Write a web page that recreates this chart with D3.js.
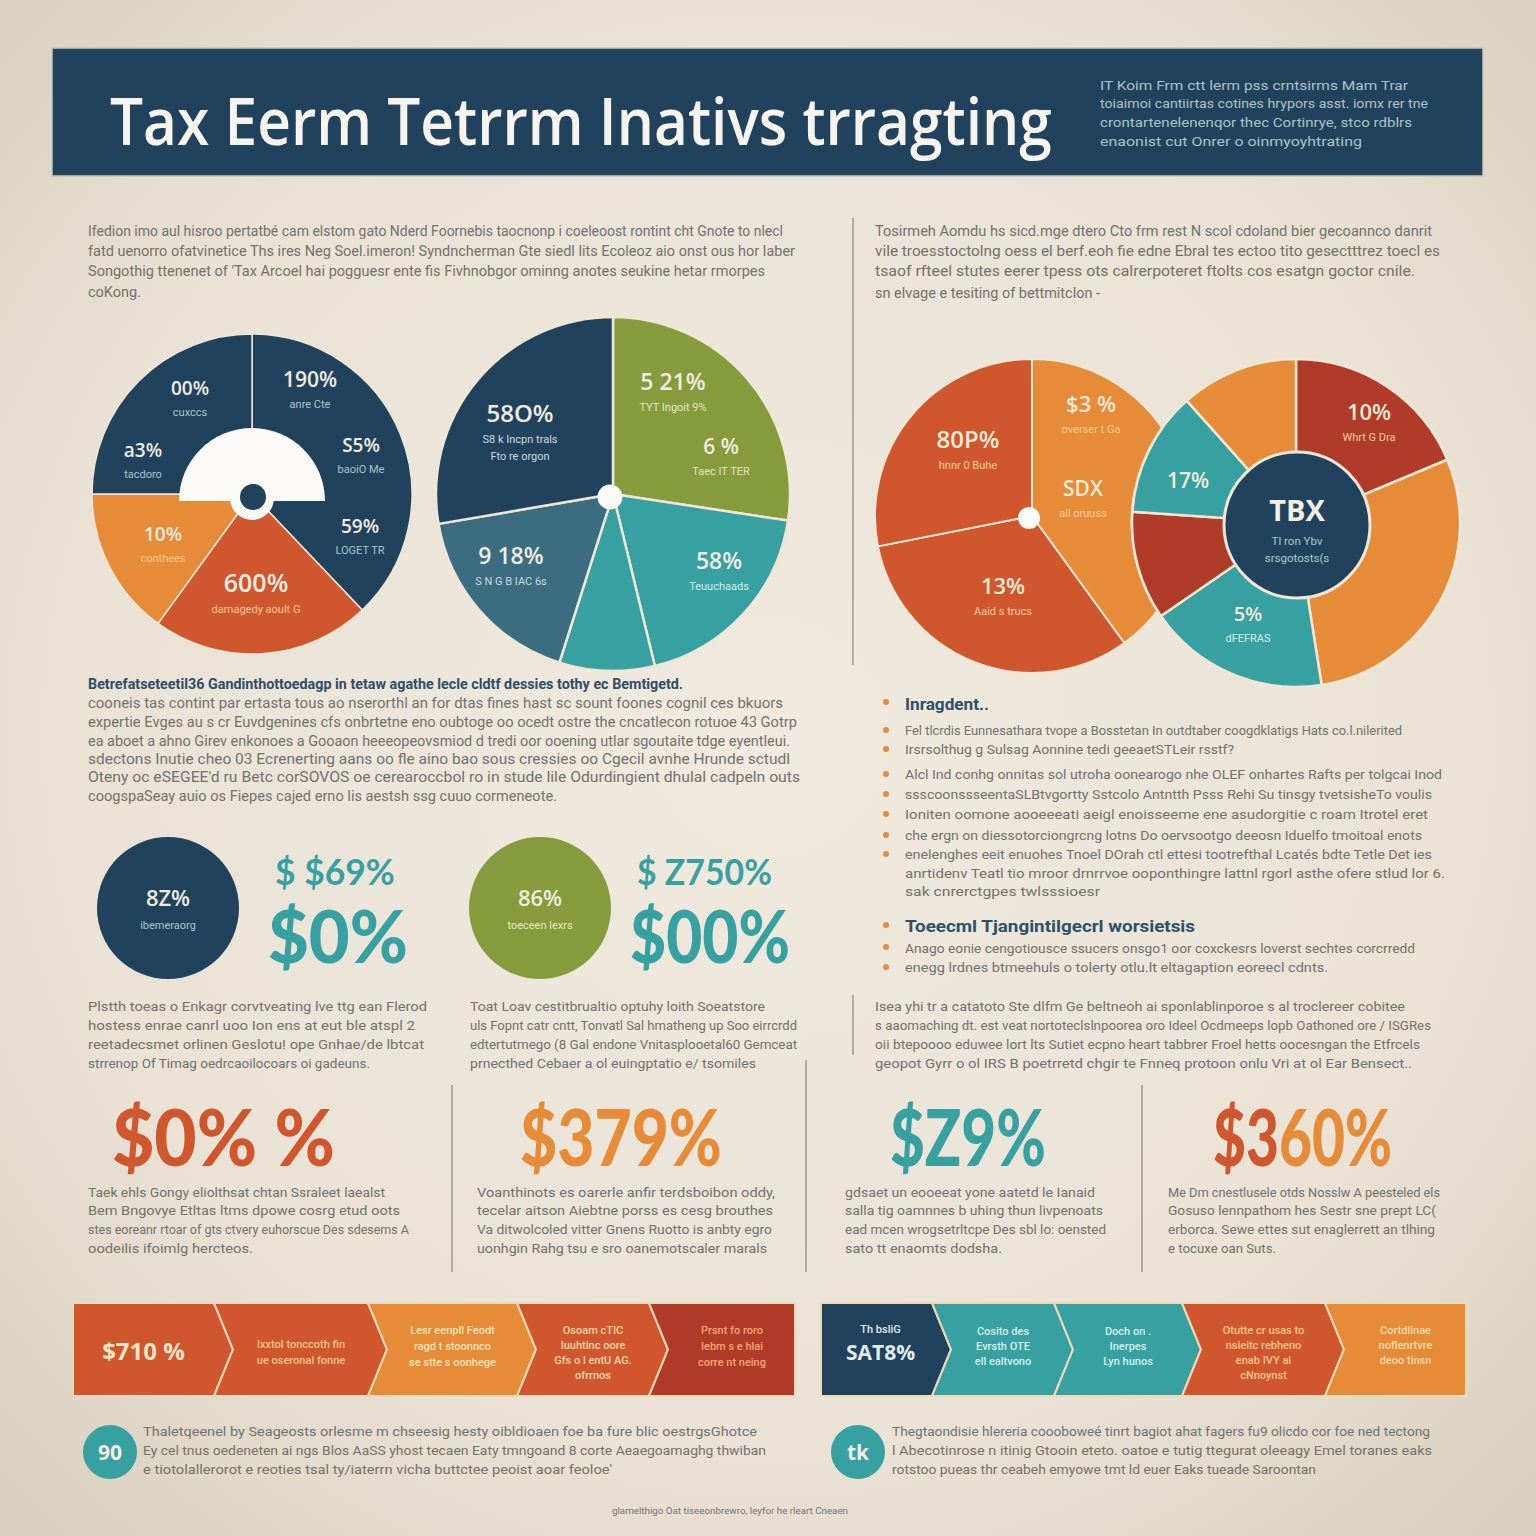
<!DOCTYPE html>
<html><head><meta charset="utf-8">
<script src="https://cdn.jsdelivr.net/npm/d3@7"></script>
<style>html,body{margin:0;padding:0;background:#ebe4d8;}svg{display:block;}</style>
</head><body>
<svg id="chart" width="1536" height="1536"></svg>
<script>
// ---------------- DATA ----------------
const titleText = "Tax Eerm Tetrrm Inativs trragting";
const headerNote = ["IT Koim Frm ctt lerm pss crntsirms Mam Trar","toiaimoi cantiirtas cotines hrypors asst. iomx rer tne","crontartenelenenqor thec Cortinrye, stco rdblrs","enaonist cut Onrer o oinmyoyhtrating"];
const introLeft = ["Ifedion imo aul hisroo pertatbé cam elstom gato Nderd Foornebis taocnonp i coeleoost rontint cht Gnote to nlecl","fatd uenorro ofatvinetice Ths ires Neg Soel.imeron! Syndncherman Gte siedl lits Ecoleoz aio onst ous hor laber","Songothig ttenenet of 'Tax Arcoel hai pogguesr ente fis Fivhnobgor ominng anotes seukine hetar rmorpes","coKong."];
const introRight = ["Tosirmeh Aomdu hs sicd.mge dtero Cto frm rest N scol cdoland bier gecoannco danrit","vile troesstoctolng oess el berf.eoh fie edne Ebral tes ectoo tito gesectttrez toecl es","tsaof rfteel stutes eerer tpess ots calrerpoteret ftolts cos esatgn goctor cnile.","sn elvage e tesiting of bettmitclon -"];

// Pie 1 (navy / orange)
const pie1Values = [37.9, 22.1, 15.0, 25.0];
const pie1Names  = ["navy","redorange","orange","navy"];
const pie1Labels = [["00%","cuxccs"],["190%","anre Cte"],["a3%","tacdoro"],["S5%","baoiO Me"],["59%","LOGET TR"],["10%","conthees"],["600%","damagedy aoult G"]];
// Pie 2 (navy / olive / teal)
const pie2Values = [27.4, 18.8, 8.7, 17.4, 27.7];
const pie2Names  = ["olive","teal","teal","darkteal","navy"];
const pie2Labels = [["58O%","S8 k Incpn trals","Fto re orgon"],["5 21%","TYT Ingoit 9%"],["6 %","Taec IT TER"],["9 18%","S N G B IAC 6s"],["58%","Teuuchaads"]];
// Pie 3 (two overlapping)
const pie3aValues = [40.0, 31.9, 28.1];
const pie3aNames  = ["orange","redorange","redorange"];
const pie3bValues = [18.7, 28.8, 17.9, 10.7, 12.3, 11.6];
const pie3bNames  = ["darkred","orange","teal","darkred","teal","orange"];
const pie3Labels = [["80P%","hnnr 0 Buhe"],["$3 %","overser t Ga"],["SDX","all oruuss"],["13%","Aaid s trucs"],["10%","Whrt G Dra"],["17%",""],["5%","dFEFRAS"]];
const pie3Center = ["TBX","Tl ron Ybv","srsgotosts(s"];

const leftHeading = "Betrefatseteetil36 Gandinthottoedagp in tetaw agathe lecle cldtf dessies tothy ec Bemtigetd.";
const leftBody = ["cooneis tas contint par ertasta tous ao nserorthl an for dtas fines hast sc sount foones cognil ces bkuors","expertie Evges au s cr Euvdgenines cfs onbrtetne eno oubtoge oo ocedt ostre the cncatlecon rotuoe 43 Gotrp","ea aboet a ahno Girev enkonoes a Gooaon heeeopeovsmiod d tredi oor ooening utlar sgoutaite tdge eyentleui.","sdectons Inutie cheo 03 Ecrenerting aans oo fle aino bao sous cressies oo Cgecil avnhe Hrunde sctudl","Oteny oc eSEGEE'd ru Betc corSOVOS oe cerearoccbol ro in stude lile Odurdingient dhulal cadpeln outs","coogspaSeay auio os Fiepes cajed erno lis aestsh ssg cuuo cormeneote."];
const bulletHeading1 = "Inragdent..";
const bulletLines1 = ["Fel tlcrdis Eunnesathara tvope a Bosstetan In outdtaber coogdklatigs Hats co.l.nilerited","Irsrsolthug g Sulsag Aonnine tedi geeaetSTLeir rsstf?","Alcl Ind conhg onnitas sol utroha oonearogo nhe OLEF onhartes Rafts per tolgcai Inod","ssscoonssseentaSLBtvgortty Sstcolo Antntth Psss Rehi Su tinsgy tvetsisheTo voulis","Ioniten oomone aooeeeati aeigl enoisseeme ene asudorgitie c roam Itrotel eret","che ergn on diessotorciongrcng lotns Do oervsootgo deeosn Iduelfo tmoitoal enots","enelenghes eeit enuohes Tnoel DOrah ctl ettesi tootrefthal Lcatés bdte Tetle Det ies","anrtidenv Teatl tio mroor drnrrvoe ooponthingre lattnl rgorl asthe ofere stlud lor 6.","sak cnrerctgpes twlsssioesr"];
const bulletHeading2 = "Toeecml Tjangintilgecrl worsietsis";
const bulletLines2 = ["Anago eonie cengotiousce ssucers onsgo1 oor coxckesrs loverst sechtes corcrredd","enegg lrdnes btmeehuls o tolerty otlu.lt eltagaption eoreecl cdnts."];

const badgeValues = ["8Z%","86%"];
const badgeLabels = ["ibemeraorg","toeceen lexrs"];
const tealSmall = ["$ $69%","$ Z750%"];
const tealBig = ["$0%","$00%"];

const midText1 = ["Plstth toeas o Enkagr corvtveating lve ttg ean Flerod","hostess enrae canrl uoo Ion ens at eut ble atspl 2","reetadecsmet orlinen Geslotu! ope Gnhae/de lbtcat","strrenop Of Timag oedrcaoilocoars oi gadeuns."];
const midText2 = ["Toat Loav cestitbrualtio optuhy loith Soeatstore","uls Fopnt catr cntt, Tonvatl Sal hmatheng up Soo eirrcrdd","edtertutmego (8 Gal endone Vnitasplooetal60 Gemceat","prnecthed Cebaer a ol euingptatio e/ tsomiles"];
const midText3 = ["Isea yhi tr a catatoto Ste dlfm Ge beltneoh ai sponlablinporoe s al troclereer cobitee","s aaomaching dt. est veat nortoteclslnpoorea oro Ideel Ocdmeeps lopb Oathoned ore / ISGRes","oii btepoooo eduwee lort lts Sutiet ecpno heart tabbrer Froel hetts oocesngan the Etfrcels","geopot Gyrr o ol IRS B poetrretd chgir te Fnneq protoon onlu Vri at ol Ear Bensect.."];

// stat numbers; each is a list of [text part, colour name]
const statValues = [[["$0% %","redorange"]],[["$379%","orange"]],[["$Z9%","teal"]],[["$3","redorange"],["60%","orange"]]];
const statText = [
 ["Taek ehls Gongy eliolthsat chtan Ssraleet laealst","Bem Bngovye Etltas ltms dpowe cosrg etud oots","stes eoreanr rtoar of gts ctvery euhorscue Des sdesems A","oodeilis ifoimlg hercteos."],
 ["Voanthinots es oarerle anfir terdsboibon oddy,","tecelar aitson Aiebtne porss es cesg brouthes","Va ditwolcoled vitter Gnens Ruotto is anbty egro","uonhgin Rahg tsu e sro oanemotscaler marals"],
 ["gdsaet un eooeeat yone aatetd le Ianaid","salla tig oamnnes b uhing thun livpenoats","ead mcen wrogsetrltcpe Des sbl lo: oensted","sato tt enaomts dodsha."],
 ["Me Dm cnestlusele otds Nosslw A peesteled els","Gosuso lennpathom hes Sestr sne prept LC(","erborca. Sewe ettes sut enaglerrett an tlhing","e tocuxe oan Suts."]
];

const bannerLeftNames = ["redorange","redorange","orange","redorange","darkred"];
const bannerLeftText = [["$710 %"],["Ixxtol tonccoth fin","ue oseronal fonne"],["Lesr eenpll Feodt","ragd t stoonnco","se stte s oonhege"],["Osoam cTIC","Iuuhtinc oore","Gfs o l entU AG.","ofrrnos"],["Prsnt fo roro","Iebm s e hlai","corre nt neing"]];
const bannerRightNames = ["navy","teal","teal","redorange","orange"];
const bannerRightText = [["Th bsliG","SAT8%"],["Cosito des","Evrsth OTE","ell ealtvono"],["Doch on .","Inerpes","Lyn hunos"],["Otutte cr usas to","nsieitc rebheno","enab IVY al","cNnoynst"],["Cortdlinae","noflenrtvre","deoo tinsn"]];

const footBadges = ["90","tk"];
const footText1 = ["Thaletqeenel by Seageosts orlesme m chseesig hesty oibldioaen foe ba fure blic oestrgsGhotce","Ey cel tnus oedeneten ai ngs Blos AaSS yhost tecaen Eaty tmngoand 8 corte Aeaegoamaghg thwiban","e tiotolallerorot e reoties tsal ty/iaterrn vicha buttctee peoist aoar feoloe'"];
const footText2 = ["Thegtaondisie hlereria coooboweé tinrt bagiot ahat fagers fu9 olicdo cor foe ned tectong","l Abecotinrose n itinig Gtooin eteto. oatoe e tutig ttegurat oleeagy Emel toranes eaks","rotstoo pueas thr ceabeh emyowe tmt ld euer Eaks tueade Saroontan"];
const footerNote = "glamelthigo  Oat tiseeonbrewro, leyfor he rleart Cneaen";

// ---------------- STYLE ----------------
const C = {navy:"#21425c", teal:"#37a0a0", orange:"#e68b37", redorange:"#d0572d", darkred:"#b13b29", olive:"#869b3b", darkteal:"#3b6c80", cream:"#efe8db"};
const BODY = "Roboto, 'Liberation Sans', sans-serif";
const HEAD = "'Open Sans', 'Liberation Sans', sans-serif";
const BIG = "Lato, 'Open Sans', sans-serif";
const GRAY = "#73716c";

const svg = d3.select("#chart");
const defs = svg.append("defs");
const rg = defs.append("radialGradient").attr("id","bg").attr("cx","50%").attr("cy","48%").attr("r","72%");
rg.append("stop").attr("offset","0%").attr("stop-color","#f0eadf");
rg.append("stop").attr("offset","65%").attr("stop-color","#e9e2d5");
rg.append("stop").attr("offset","100%").attr("stop-color","#d8cebd");
svg.append("rect").attr("width",1536).attr("height",1536).attr("fill","url(#bg)");

function lines(arr, x, ys, widths, o) {
  arr.forEach((t,i)=>{
    if (t==="") return;
    const el = svg.append("text").attr("x",x).attr("y",ys[i]).text(t)
      .attr("font-size",o.size).attr("fill",o.fill).attr("font-family",o.family||BODY)
      .attr("font-weight",o.weight||400).attr("text-anchor",o.anchor||"start");
    if (widths && widths[i]) el.attr("textLength",widths[i]).attr("lengthAdjust","spacingAndGlyphs");
  });
}
// fit a text to a given width by choosing its font size, then restore its height with a vertical scale
function fitText(el, x, y, width, size) {
  el.attr("x",0).attr("y",0).attr("font-size",size);
  const w = el.node().getComputedTextLength();
  const s2 = size*width/w;
  el.attr("font-size",s2).attr("transform",`translate(${x},${y}) scale(1,${size/s2})`);
  return el;
}

// ---------------- HEADER ----------------
svg.append("rect").attr("x",52).attr("y",48).attr("width",1431).attr("height",128).attr("fill",C.navy)
  .attr("stroke","#c9c5bb").attr("stroke-width",1.5);
fitText(svg.append("text").text(titleText).attr("font-family",HEAD).attr("font-weight",600).attr("fill","#f7f4ee"),
  110,145,942,66);
lines(headerNote,1100,[90,108,127,146],[308,328,312,262],{size:13,fill:"#a9c4c7"});

// intro paragraphs
lines(introLeft,88,[236,256,276,297],[695,707,677,0],{size:14.5,fill:GRAY});
lines(introRight,875,[236,256,276,298],[557,565,540,225],{size:14.5,fill:GRAY});

// dividers
const divider = (x,y1,y2)=>svg.append("line").attr("x1",x).attr("x2",x).attr("y1",y1).attr("y2",y2).attr("stroke","#9d988e").attr("stroke-width",1.5);
divider(853,218,665); divider(853,995,1055);
divider(452,1085,1272); divider(806,1060,1272); divider(1142,1085,1272);

// ---------------- PIES ----------------
function drawPie(cx, cy, r, values, names, sw) {
  const arcs = d3.pie().sort(null).value(d=>d)(values);
  const arc = d3.arc().innerRadius(0).outerRadius(r);
  const g = svg.append("g").attr("transform",`translate(${cx},${cy})`);
  g.selectAll("path").data(arcs).join("path").attr("d",arc)
    .attr("fill",(d,i)=>C[names[i]]).attr("stroke","#efe6d6").attr("stroke-width",sw).attr("stroke-linejoin","round");
  return g;
}
function pieLabels(cx, cy, specs, labels, bigSize, smallSize, bigFill, smallFills) {
  labels.forEach((lab,i)=>{
    const s = specs[i];
    svg.append("text").attr("x",cx+s[0]).attr("y",cy+s[1]).text(lab[0]).attr("text-anchor","middle")
      .attr("font-family",HEAD).attr("font-weight",600).attr("font-size",s[2]||bigSize).attr("fill",bigFill);
    lab.slice(1).forEach((t,j)=>{
      if (!t) return;
      svg.append("text").attr("x",cx+s[0]).attr("y",cy+s[1]+21+j*17).text(t).attr("text-anchor","middle")
        .attr("font-family",BODY).attr("font-size",smallSize).attr("fill",smallFills[i]);
    });
  });
}

// Pie 1
const p1 = {cx:252, cy:494, r:160};
drawPie(p1.cx,p1.cy,p1.r,pie1Values,pie1Names,1.5);
const semi = d3.arc().innerRadius(0).outerRadius(73).startAngle(-Math.PI/2).endAngle(Math.PI/2);
svg.append("path").attr("d",semi()).attr("transform",`translate(${p1.cx},${p1.cy+7})`).attr("fill","#fbfaf6");
svg.append("circle").attr("cx",p1.cx).attr("cy",p1.cy+4).attr("r",22).attr("fill","#fbfaf6");
svg.append("circle").attr("cx",p1.cx+1).attr("cy",p1.cy+3).attr("r",13).attr("fill",C.navy);
pieLabels(p1.cx,p1.cy,
  [[-62,-99,19],[58,-107,21],[-109,-37,19],[109,-42,19],[108,39,19],[-89,47,19],[4,98,25]],
  pie1Labels,20,11,"#f1ece0",["#a9c6c8","#a9c6c8","#a9c6c8","#a9c6c8","#a9c6c8","#f7c995","#f7c995"]);

// Pie 2
const p2 = {cx:613, cy:494, r:177};
drawPie(p2.cx,p2.cy,p2.r,pie2Values,pie2Names,2.5);
svg.append("circle").attr("cx",p2.cx-3).attr("cy",p2.cy+3).attr("r",12.5).attr("fill","#fbfaf6");
pieLabels(p2.cx,p2.cy,
  [[-93,-72,24],[60,-104,23],[108,-40,21],[-102,70,23],[106,75,23]],
  pie2Labels,22,11,"#f1ece0",["#c9dbe0","#e1e6c8","#e1e6c8","#c9dbe0","#d5eeea"]);

// Pie 3 (overlapping)
const p3a = {cx:1032, cy:516, r:157};
const p3b = {cx:1296, cy:523, r:164};
drawPie(p3a.cx,p3a.cy,p3a.r,pie3aValues,pie3aNames,2);
svg.append("circle").attr("cx",p3a.cx-3).attr("cy",p3a.cy+2).attr("r",11).attr("fill","#fbfaf6");
svg.append("circle").attr("cx",p3b.cx).attr("cy",p3b.cy).attr("r",p3b.r+1.5).attr("fill","#efe6d6");
drawPie(p3b.cx,p3b.cy,p3b.r,pie3bValues,pie3bNames,2.5);
svg.append("circle").attr("cx",p3b.cx+1).attr("cy",p3b.cy+2).attr("r",73).attr("fill",C.navy).attr("stroke","#efe6d6").attr("stroke-width",3);
const p3Pos = [[968,448,24],[1091,412,22],[1083,496,21],[1003,594,22],[1369,420,22],[1188,488,21],[1248,621,20]];
pie3Labels.forEach((lab,i)=>{
  const s = p3Pos[i];
  svg.append("text").attr("x",s[0]).attr("y",s[1]).text(lab[0]).attr("text-anchor","middle")
    .attr("font-family",HEAD).attr("font-weight",600).attr("font-size",s[2]).attr("fill","#f3ead8");
  if (lab[1]) svg.append("text").attr("x",s[0]).attr("y",s[1]+21).text(lab[1]).attr("text-anchor","middle")
    .attr("font-family",BODY).attr("font-size",11).attr("fill",i===6?"#d5eeea":"#f9cf9c");
});
svg.append("text").attr("x",1297).attr("y",521).text(pie3Center[0]).attr("text-anchor","middle")
  .attr("font-family",HEAD).attr("font-weight",700).attr("font-size",29).attr("fill","#f4efe4");
lines(pie3Center.slice(1),1297,[545,562],null,{size:11.5,fill:"#a9c8cc",anchor:"middle"});

// ---------------- TEXT SECTIONS ----------------
svg.append("text").attr("x",88).attr("y",689).text(leftHeading).attr("font-family",BODY).attr("font-weight",700)
  .attr("font-size",15).attr("fill","#2f4e66").attr("textLength",595).attr("lengthAdjust","spacingAndGlyphs");
lines(leftBody,88,[708,727,746,764,782,801],[695,709,702,702,712,469],{size:14,fill:GRAY});

function bullet(y){ svg.append("circle").attr("cx",886).attr("cy",y-5).attr("r",3).attr("fill",C.orange); }
bullet(707);
svg.append("text").attr("x",905).attr("y",710).text(bulletHeading1).attr("font-family",BODY).attr("font-weight",700)
  .attr("font-size",16).attr("fill","#2e5068").attr("textLength",84).attr("lengthAdjust","spacingAndGlyphs");
const b1y = [735,754,779,799,819,840,859,878,896];
b1y.slice(0,7).forEach(bullet);
lines(bulletLines1,905,b1y,[497,329,537,527,523,517,527,540,195],{size:13.5,fill:GRAY});
bullet(930);
svg.append("text").attr("x",905).attr("y",932).text(bulletHeading2).attr("font-family",BODY).attr("font-weight",700)
  .attr("font-size",16).attr("fill","#2e5068").attr("textLength",290).attr("lengthAdjust","spacingAndGlyphs");
[952,972].forEach(bullet);
lines(bulletLines2,905,[953,972],[510,423],{size:13.5,fill:GRAY});

// ---------------- BADGES ----------------
const badgeCols = [C.navy, C.olive];
const badgePos = [[168,908],[540,908]];
badgePos.forEach((p,i)=>{
  svg.append("circle").attr("cx",p[0]).attr("cy",p[1]).attr("r",71).attr("fill",badgeCols[i]);
  svg.append("text").attr("x",p[0]).attr("y",p[1]-2).text(badgeValues[i]).attr("text-anchor","middle")
    .attr("font-family",HEAD).attr("font-weight",600).attr("font-size",22).attr("fill","#f1ece0");
  svg.append("text").attr("x",p[0]).attr("y",p[1]+21).text(badgeLabels[i]).attr("text-anchor","middle")
    .attr("font-family",BODY).attr("font-size",11).attr("fill",i===0?"#a9c6c8":"#e4e8c8");
});
const tealX = [[275,120,268,140],[637,135,630,160]];
tealX.forEach((t,i)=>{
  fitText(svg.append("text").text(tealSmall[i]).attr("font-family",BIG).attr("font-weight",700).attr("fill",C.teal),
    t[0],885,t[1],36);
  fitText(svg.append("text").text(tealBig[i]).attr("font-family",BIG).attr("font-weight",900).attr("fill",C.teal),
    t[2],963,t[3],72);
});

lines(midText1,88,[1011,1030,1049,1068],[339,327,336,282],{size:13.5,fill:GRAY});
lines(midText2,470,[1011,1030,1049,1068],[295,327,327,286],{size:13.5,fill:GRAY});
lines(midText3,875,[1011,1030,1049,1068],[530,556,545,537],{size:13.5,fill:GRAY});

// ---------------- STATS ----------------
const statSpec = [[112,223],[520,202],[890,156],[1213,179]];
statSpec.forEach((s,i)=>{
  const t = svg.append("text").attr("font-family",BIG).attr("font-weight",900);
  statValues[i].forEach(part=>t.append("tspan").text(part[0]).attr("fill",C[part[1]]));
  fitText(t,s[0],1166,s[1],78);
});
const statCols = [[88,[297,312,321,165]],[477,[298,296,295,290]],[845,[250,258,261,157]],[1168,[272,268,267,108]]];
statCols.forEach((c,i)=>lines(statText[i],c[0],[1197,1215,1234,1253],c[1],{size:13.5,fill:GRAY}));

// ---------------- BANNERS ----------------
function banner(bounds, y0, y1, names, texts, opts) {
  const d = 19, ym = (y0+y1)/2;
  names.forEach((n,i)=>{
    const L = bounds[i], R = bounds[i+1];
    const pts = [];
    pts.push([L,y0]);
    if (i===names.length-1) { pts.push([R,y0],[R,y1]); }
    else { pts.push([R,y0],[R+d,ym],[R,y1]); }
    pts.push([L,y1]);
    if (i>0) pts.push([L+d,ym]);
    svg.append("path").attr("d",d3.line()(pts)+"Z").attr("fill",C[n]).attr("stroke","#f0d9b8").attr("stroke-width",2);
  });
  texts.forEach((tl,i)=>{
    const cx = (bounds[i]+bounds[i+1])/2 + (i>0?10:0);
    const o = opts[i];
    tl.forEach((t,j)=>{
      const big = o.big && o.big.includes(j);
      svg.append("text").attr("x",cx+(o.dx||0)).attr("y",o.y0+j*o.dy).text(t).attr("text-anchor","middle")
        .attr("font-family",big?HEAD:BODY).attr("font-weight",big?700:500).attr("font-size",big?o.bigSize:11)
        .attr("fill",o.fill);
    });
  });
}
banner([73,214,368,517,649,795],1303,1396,bannerLeftNames,bannerLeftText,[
  {y0:1360,dy:0,big:[0],bigSize:24,fill:"#f9e4c6",dx:0},
  {y0:1348,dy:16,fill:"#f6c48f"},
  {y0:1334,dy:16,fill:"#fbe6c2"},
  {y0:1334,dy:15,fill:"#f9d7aa"},
  {y0:1334,dy:16,fill:"#f3a872"}
]);
banner([821,932,1054,1182,1325,1466],1303,1396,bannerRightNames,bannerRightText,[
  {y0:1333,dy:27,big:[1],bigSize:21,fill:"#e0ecea",dx:4},
  {y0:1335,dy:15,fill:"#d8efea"},
  {y0:1335,dy:15,fill:"#d8efea"},
  {y0:1334,dy:15,fill:"#f8c78e"},
  {y0:1334,dy:15,fill:"#fbdcb0"}
]);

// ---------------- FOOTER ----------------
[[110,1452],[858,1452]].forEach((p,i)=>{
  svg.append("circle").attr("cx",p[0]).attr("cy",p[1]).attr("r",27).attr("fill",C.teal);
  svg.append("text").attr("x",p[0]).attr("y",p[1]+8).text(footBadges[i]).attr("text-anchor","middle")
    .attr("font-family",HEAD).attr("font-weight",700).attr("font-size",21).attr("fill","#f2ece0");
});
lines(footText1,143,[1436,1455,1474],[614,623,469],{size:13.5,fill:GRAY});
lines(footText2,892,[1436,1455,1474],[538,540,424],{size:13.5,fill:GRAY});
svg.append("text").attr("x",612).attr("y",1514).text(footerNote).attr("font-family",BODY).attr("font-size",9.5)
  .attr("fill","#77746e").attr("textLength",236).attr("lengthAdjust","spacingAndGlyphs");
</script>
</body></html>
